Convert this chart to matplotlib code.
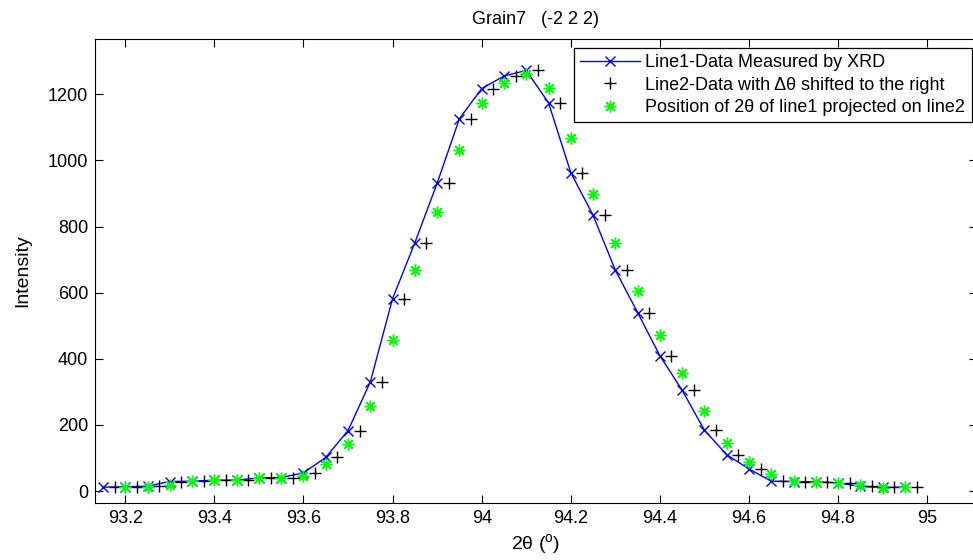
import matplotlib
matplotlib.use("Agg")
import matplotlib.pyplot as plt

plt.rcParams["font.family"] = ["Liberation Sans", "DejaVu Sans"]
plt.rcParams["mathtext.fontset"] = "custom"
plt.rcParams["mathtext.rm"] = "Liberation Sans"

# line1: measured XRD profile (2theta in degrees, intensity)
line1_x = [93.15, 93.20, 93.25, 93.30, 93.35, 93.40, 93.45, 93.50, 93.55, 93.60,
           93.65, 93.70, 93.75, 93.80, 93.85, 93.90, 93.95, 94.00, 94.05, 94.10,
           94.15, 94.20, 94.25, 94.30, 94.35, 94.40, 94.45, 94.50, 94.55, 94.60,
           94.65, 94.70, 94.75, 94.80, 94.85, 94.90, 94.95]
line1_y = [12, 13, 15, 29, 30, 33, 33, 40, 41, 55,
           102, 183, 330, 582, 751, 931, 1126, 1217, 1255, 1272,
           1174, 963, 834, 668, 540, 409, 305, 184, 110, 67,
           30, 29, 28, 25, 14, 11, 12]

# line2: same profile shifted right by delta_theta
delta_theta = 0.026
line2_x = [x + delta_theta for x in line1_x]
line2_y = line1_y

# green: line1 positions projected on line2
proj_x = line1_x[1:]
proj_y = [11, 11, 18, 30, 33, 33, 40, 40, 45, 81,
          142, 257, 456, 668, 844, 1030, 1174, 1235, 1260, 1220,
          1069, 899, 751, 604, 473, 356, 242, 144, 89, 51,
          31, 28, 23, 18, 10, 11]

x_ticks = [93.2, 93.4, 93.6, 93.8, 94.0, 94.2, 94.4, 94.6, 94.8, 95.0]
x_tick_labels = ["93.2", "93.4", "93.6", "93.8", "94", "94.2", "94.4", "94.6", "94.8", "95"]
y_ticks = [0, 200, 400, 600, 800, 1000, 1200]

W, H = 973, 560
fig = plt.figure(figsize=(W / 100, H / 100), dpi=100)
# axes runs a little past the right edge, as in the original screenshot
ax = fig.add_axes([95 / W, 1 - 503 / H, 882 / W, 464 / H])

ax.plot(line1_x, line1_y, color=(0, 0, 1), lw=1.0, marker="x", ms=7.5, mew=1.0,
        label="Line1-Data Measured by XRD")
ax.plot(line2_x, line2_y, ls="none", color="black", marker="+", ms=8, mew=1.0,
        label="Line2-Data with Δθ shifted to the right")
ax.plot(proj_x, proj_y, ls="none", color=(0, 1, 0), marker=(8, 2, 0), ms=8.5, mew=1.0,
        label="Position of 2θ of line1 projected on line2")

ax.set_xlim(93.132, 93.132 + 882 / 445.5)
ax.set_ylim(-36, 1367)
ax.set_xticks(x_ticks)
ax.set_xticklabels(x_tick_labels)
ax.set_yticks(y_ticks)
ax.tick_params(direction="in", length=6, width=0.8, top=True, right=True,
               labelsize=13, pad=5)
for s in ax.spines.values():
    s.set_linewidth(0.8)

ax.set_title("Grain7   (-2 2 2)", fontsize=13, pad=11)
ax.set_xlabel(r"2θ ($^{\mathrm{o}}$)", fontsize=14, labelpad=4)
ax.set_ylabel("Intensity", fontsize=14, labelpad=12)

leg = ax.legend(loc="upper left", bbox_to_anchor=(574 / W, 1 - 48 / H),
                bbox_transform=fig.transFigure, borderaxespad=0,
                fontsize=13, frameon=True, fancybox=False, framealpha=1,
                edgecolor="black", borderpad=0.35, labelspacing=0.3,
                handlelength=3.3, handletextpad=0.3)
leg.get_frame().set_linewidth(0.9)

fig.savefig("out.png", dpi=100)
